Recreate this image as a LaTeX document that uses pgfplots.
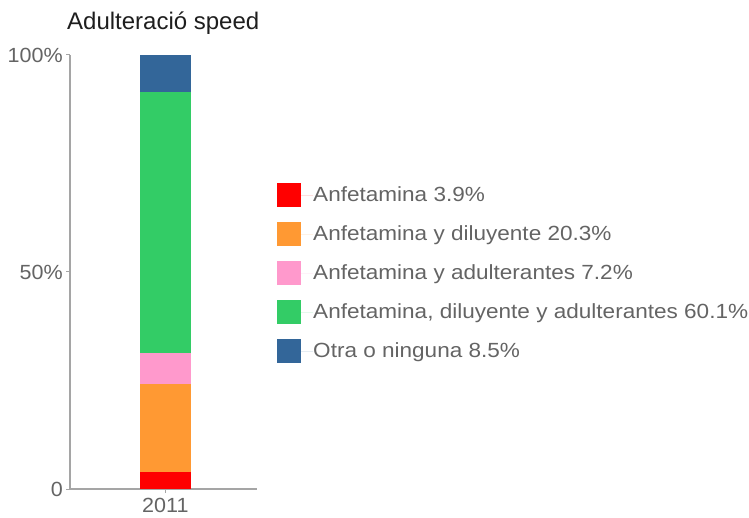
\documentclass[border=0pt]{standalone}
\usepackage{fontspec}
\setmainfont{Liberation Sans}
\newfontfamily\legfont[FakeStretch=1.1]{Liberation Sans}
\newfontfamily\tickfont[FakeStretch=1.05]{Liberation Sans}
\usepackage{pgfplots}
\pgfplotsset{compat=1.18}
\definecolor{cRed}{RGB}{255,0,0}
\definecolor{cOrange}{RGB}{255,153,51}
\definecolor{cPink}{RGB}{255,153,204}
\definecolor{cGreen}{RGB}{51,204,102}
\definecolor{cBlue}{RGB}{51,102,153}
\definecolor{axisgray}{RGB}{165,165,165}
\definecolor{labelgray}{RGB}{100,100,100}
\definecolor{titlegray}{RGB}{30,30,30}
\begin{document}
\begin{tikzpicture}[x=1pt,y=1pt]
\useasboundingbox (0,0) rectangle (749,517);
\node[anchor=base west, inner sep=0pt, font=\fontsize{24}{28}\selectfont, text=titlegray]
  at (67,487) {Adulteració speed};
\begin{axis}[
  at={(70pt,28pt)}, anchor=south west,
  scale only axis, width=187pt, height=434pt,
  ybar stacked, bar width=51pt,
  xmin=-1.02, xmax=0.98, ymin=0, ymax=100,
  xtick={0}, xticklabels={2011},
  ytick={0,50,100}, yticklabels={0,50\%,100\%},
  axis lines*=left,
  axis line style={draw=axisgray, line width=1.3pt},
  tick style={draw=axisgray, line width=1pt},
  tick align=outside, major tick length=4pt,
  /pgf/number format/assume math mode=true,
  every tick label/.style={font=\tickfont\fontsize{20.5}{24}\selectfont, text=labelgray, inner sep=0pt},
  yticklabel style={xshift=-3pt},
  xticklabel style={yshift=-5pt},
  legend cell align=left,
  legend image code/.code={
    \fill[#1,draw=none] (0pt,-12pt) rectangle (24pt,12pt);
    \path (0pt,0pt) -- (36pt,0pt);
  },
  legend style={at={(1.107,0.705)}, anchor=north west, draw=none, fill=none,
    inner sep=0pt, row sep=15pt, font=\legfont\fontsize{20.5}{24}\selectfont,
    text=labelgray, nodes={inner sep=0pt}},
]
\addplot[fill=cRed, draw=none] coordinates {(0,3.9)};
\addplot[fill=cOrange, draw=none] coordinates {(0,20.3)};
\addplot[fill=cPink, draw=none] coordinates {(0,7.2)};
\addplot[fill=cGreen, draw=none] coordinates {(0,60.1)};
\addplot[fill=cBlue, draw=none] coordinates {(0,8.5)};
\legend{Anfetamina 3.9\%, Anfetamina y diluyente 20.3\%, Anfetamina y adulterantes 7.2\%,
  {Anfetamina, diluyente y adulterantes 60.1\%}, Otra o ninguna 8.5\%}
\end{axis}
\end{tikzpicture}
\end{document}
